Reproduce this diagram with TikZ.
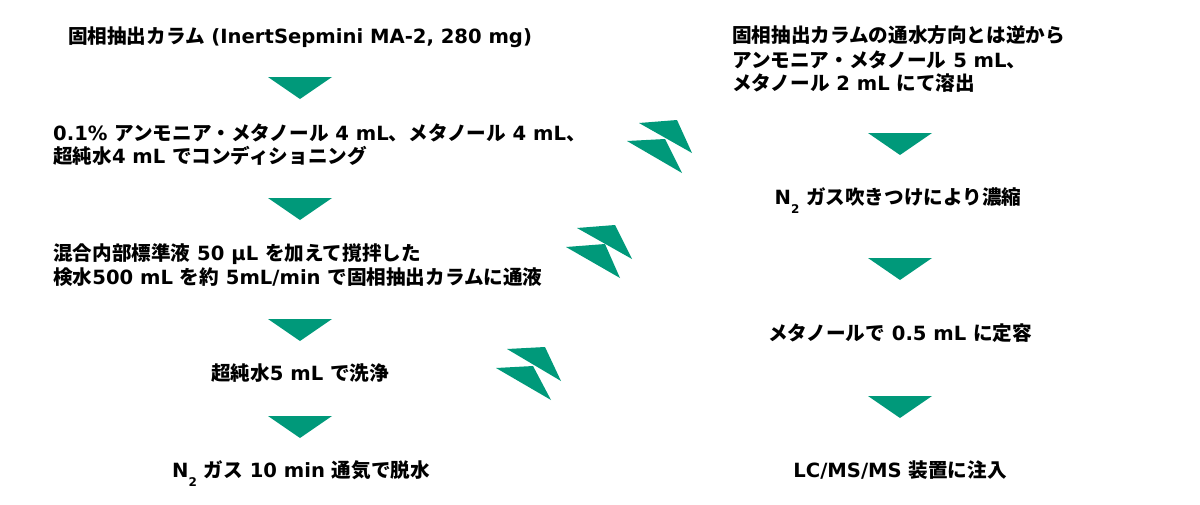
\documentclass[tikz,border=0pt]{standalone}
\usepackage{fontspec}
\setmainfont{DejaVu Sans}
\newfontfamily\jp{Noto Sans CJK JP}
\definecolor{grn}{HTML}{00997A}
\newcommand\J[1]{{\jp #1}}
\newcommand\Ntwo{N\raisebox{-9pt}{\fontsize{12}{12}\selectfont 2}}
\newcommand\downtri[3]{\fill[grn] (#1) ++(-#2/2,0) -- ++(#2,0) -- ++(-#2/2,#3) -- cycle;}
\begin{document}
\begin{tikzpicture}[x=1pt,y=-1pt,
  txt/.style={font=\fontsize{19.6}{24}\selectfont\bfseries, inner sep=0pt, text=black},
  ctr/.style={txt, anchor=base},
  lft/.style={txt, anchor=base west},
  bolt/.style={fill=grn}]
\useasboundingbox (0,0) rectangle (1200,504);

% left column texts
\node[ctr] (s1) at (300,43.5) {\J{固相抽出カラム} (InertSepmini MA-2, 280 mg)};
\node[lft] (s2a) at (53,140.5) {0.1\% \J{アンモニア・メタノール} 4 mL\J{、メタノール} 4 mL\J{、}};
\node[lft] (s2b) at (53,163.5) {\J{超純水}4 mL \J{でコンディショニング}};
\node[lft] (s3a) at (53,260.5) {\J{混合内部標準液} 50 μL \J{を加えて撹拌した}};
\node[lft] (s3b) at (53,284.5) {\J{検水}500 mL \J{を約} 5mL/min \J{で固相抽出カラムに通液}};
\node[ctr] (s4) at (300,380.5) {\J{超純水}5 mL \J{で洗浄}};
\node[ctr] (s5) at (301,477) {\Ntwo\ \J{ガス} 10 min \J{通気で脱水}};

% right column texts
\node[lft] (r1a) at (732,42.5) {\J{固相抽出カラムの通水方向とは逆から}};
\node[lft] (r1b) at (732,67.5) {\J{アンモニア・メタノール} 5 mL\J{、}};
\node[lft] (r1c) at (732,90.5) {\J{メタノール} 2 mL \J{にて溶出}};
\node[ctr] (r2) at (898,204) {\Ntwo\ \J{ガス吹きつけにより濃縮}};
\node[ctr] (r3) at (900,340) {\J{メタノールで} 0.5 mL \J{に定容}};
\node[ctr] (r4) at (900,477) {LC/MS/MS \J{装置に注入}};

% arrow triangles
\coordinate (t1) at (300,77);  \downtri{t1}{64}{22}
\coordinate (t2) at (300,198); \downtri{t2}{64}{22}
\coordinate (t3) at (300,319); \downtri{t3}{64}{22}
\coordinate (t4) at (300,416); \downtri{t4}{64}{22}
\coordinate (u1) at (900,133); \downtri{u1}{64}{22}
\coordinate (u2) at (900,258); \downtri{u2}{64}{22}
\coordinate (u3) at (900,396); \downtri{u3}{64}{22}

% lightning bolts
\fill[bolt] (639,123) -- (677,120) -- (692,153) -- cycle;
\fill[bolt] (627,141) -- (665,139) -- (682,173) -- cycle;
\fill[bolt] (577,228) -- (615,225) -- (632,259) -- cycle;
\fill[bolt] (566,247) -- (605,244) -- (620,278) -- cycle;
\fill[bolt] (507,349) -- (545,347) -- (561,381) -- cycle;
\fill[bolt] (496,368) -- (533,366) -- (551,400) -- cycle;
\end{tikzpicture}
\end{document}
